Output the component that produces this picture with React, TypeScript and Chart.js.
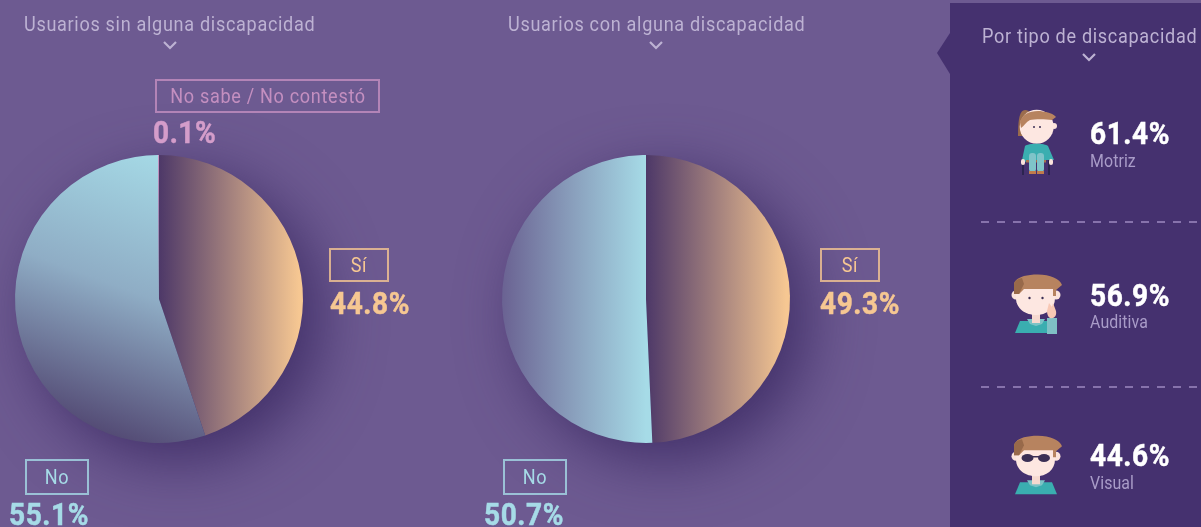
import React, { useEffect, useRef } from "react";
import { Chart, registerables } from "chart.js";

Chart.register(...registerables);

const withoutLabels = ["Sí", "No", "No sabe / No contestó"];
const withoutValues = [44.8, 55.1, 0.1];
const withLabels = ["Sí", "No"];
const withValues = [49.3, 50.7];
const typeLabels = ["Motriz", "Auditiva", "Visual"];
const typeValues = [61.4, 56.9, 44.6];
const titles = ["Usuarios sin alguna discapacidad", "Usuarios con alguna discapacidad", "Por tipo de discapacidad"];

const ORANGE = "#f6c792";
const BLUE = "#a6dbe7";
const PINK = "#d49dca";
const SIZE = 480;
const RADIUS = 144;

type Stops = { from: [number, number]; to: [number, number]; stops: [number, string][] };

const orangeGrad: Stops = { from: [0, 0], to: [140, 0], stops: [[0, "#4d3868"], [1, ORANGE]] };
const leftBlueGrad: Stops = { from: [30, -140], to: [-70, 130], stops: [[0, BLUE], [0.5, "#8fadc5"], [1, "#534a74"]] };
const rightBlueGrad: Stops = { from: [-144, 0], to: [0, 0], stops: [[0, "#6a6292"], [0.5, "#8aa0bd"], [1, BLUE]] };

function Pie({ left, labels, values, grads }: { left: number; labels: string[]; values: number[]; grads: (Stops | string)[] }) {
  const ref = useRef<HTMLCanvasElement>(null);
  useEffect(() => {
    const chart = new Chart(ref.current!, {
      type: "pie",
      data: {
        labels,
        datasets: [
          {
            data: values,
            borderWidth: 0,
            backgroundColor: (c: any) => {
              const g = grads[c.dataIndex];
              if (typeof g === "string") return g;
              const area = c.chart.chartArea;
              if (!area) return ORANGE;
              const cx = (area.left + area.right) / 2;
              const cy = (area.top + area.bottom) / 2;
              const lg = c.chart.ctx.createLinearGradient(cx + g.from[0], cy + g.from[1], cx + g.to[0], cy + g.to[1]);
              g.stops.forEach(([o, col]) => lg.addColorStop(o, col));
              return lg;
            },
          },
        ],
      },
      options: {
        responsive: false,
        animation: false,
        layout: { padding: SIZE / 2 - RADIUS },
        plugins: { legend: { display: false }, tooltip: { enabled: false } },
      },
    });
    return () => chart.destroy();
  }, []);
  return (
    <canvas
      ref={ref}
      width={SIZE}
      height={SIZE}
      style={{
        position: "absolute",
        left: left - SIZE / 2,
        top: 299 - SIZE / 2,
        width: SIZE,
        height: SIZE,
        filter: "drop-shadow(18px 18px 30px rgba(60,42,100,0.9))",
      }}
    />
  );
}

function T({ x, y, size, color, bold, children, anchor, spacing, scale }: { x: number; y: number; size: number; color: string; bold?: boolean; children: React.ReactNode; anchor?: "c"; spacing?: number; scale?: number }) {
  return (
    <div
      style={{
        position: "absolute",
        left: x,
        top: y,
        fontFamily: "Roboto, sans-serif",
        fontSize: size,
        fontWeight: bold ? 700 : 400,
        letterSpacing: spacing ?? 0,
        WebkitTextStroke: bold ? `0.5px ${color}` : undefined,
        lineHeight: 1,
        color,
        whiteSpace: "nowrap",
        transformOrigin: "0 50%",
        transform: `translate(0,-50%) scaleX(${scale ?? 0.86})${anchor === "c" ? " translateX(-50%)" : ""}`,
      }}
    >
      {children}
    </div>
  );
}

function Big({ x, y, color, children }: { x: number; y: number; color: string; children: React.ReactNode }) {
  return (
    <T x={x} y={y} size={30.5} color={color} bold spacing={0.6} scale={0.92}>
      {children}
    </T>
  );
}

function Title({ x, y, children }: { x: number; y: number; children: React.ReactNode }) {
  return (
    <T x={x} y={y} size={21} color="#bdb2d3" spacing={0.8}>
      {children}
    </T>
  );
}

function Small({ x, y, children }: { x: number; y: number; children: React.ReactNode }) {
  return (
    <T x={x} y={y} size={18.5} color="#a99cc8" spacing={0.1}>
      {children}
    </T>
  );
}

function Box({ x, y, w, h, color, label }: { x: number; y: number; w: number; h: number; color: string; label: string }) {
  return (
    <>
      <div style={{ position: "absolute", left: x, top: y, width: w, height: h, boxSizing: "border-box", border: `2px solid ${color}`, opacity: 0.8 }} />
      <T x={x + w / 2} y={y + h / 2} size={21} color={color} anchor="c" spacing={0.8}>
        {label}
      </T>
    </>
  );
}

const pct = (v: number) => `${v.toFixed(1)}%`;

function Chevron({ x, y }: { x: number; y: number }) {
  return <polyline points={`${x - 6},${y - 3} ${x},${y + 3} ${x + 6},${y - 3}`} fill="none" stroke="#bdb2d3" strokeWidth={2.2} />;
}

function ManHead({ dy }: { dy: number }) {
  return (
    <g transform={`translate(0,${dy})`}>
      <polygon points="1015,333 1020,321 1052,321 1057,333" fill="#3aaeb0" />
      <polygon points="1027,319 1045,319 1042,324 1036,326 1030,324" fill="#7cc3c6" />
      <rect x={1032} y={313} width={8} height={10} fill="#f6d9cf" />
      <circle cx={1016} cy={295} r={4.5} fill="#fbe3dc" />
      <circle cx={1056} cy={295} r={4.5} fill="#fbe3dc" />
      <path d="M1016 286 L1055 286 L1055 298 C1055 309 1046 315 1036 315 C1026 315 1016 309 1016 298 Z" fill="#fde7e1" />
      <path d="M1014 285 C1014 279 1022 274.5 1038 274.5 C1050 274.5 1060 279 1062 285 L1056 290 L1056 296 L1053 296 L1053 289 L1024 289 L1019 294 L1014 294 Z" fill="#b7835f" />
      <path d="M1014 285 C1014 281 1017 279 1022 278 L1024 284 L1019 294 L1014 294 Z" fill="#98694a" />
    </g>
  );
}

function Icons() {
  return (
    <g>
      {/* motriz */}
      <rect x={1022} y={158} width={2} height={17} fill="#2c2450" />
      <rect x={1048} y={158} width={2} height={17} fill="#2c2450" />
      <path d="M1018 136 C1018 118 1020 110 1025 110 C1030 110 1032 114 1032 118 L1025 136 Z" fill="#9b6c4c" />
      <circle cx={1054} cy={126} r={3} fill="#fbe3dc" />
      <circle cx={1036.7} cy={126.7} r={17} fill="#fde7e1" />
      <path d="M1020 122 C1022 114 1030 110.5 1040 111 C1048 112 1054 114 1056 117 L1052 120 C1046 119 1034 119 1030 120 C1026 122 1024 126 1021 128 Z" fill="#b7835f" />
      <circle cx={1034} cy={127} r={1} fill="#3a2f55" />
      <circle cx={1040} cy={127} r={1} fill="#3a2f55" />
      <path d="M1022 160 L1025 146 C1028 143 1045 143 1048 146 L1054 160 L1046 160 L1046 162 L1026 162 Z" fill="#3aaeb0" />
      <rect x={1021} y={159} width={4} height={6} rx={2} fill="#fbe3dc" />
      <rect x={1049} y={159} width={4} height={6} rx={2} fill="#fbe3dc" />
      <rect x={1026} y={160} width={20} height={2.5} fill="#a8724e" />
      <rect x={1029} y={153} width={7} height={19} rx={3} fill="#7fc4c9" />
      <rect x={1037} y={153} width={7} height={19} rx={3} fill="#7fc4c9" />
      <rect x={1029} y={171} width={7} height={3} fill="#c07c4c" />
      <rect x={1037} y={171} width={7} height={3} fill="#c07c4c" />

      {/* auditiva */}
      <ManHead dy={0} />
      <circle cx={1029.5} cy={298} r={1.2} fill="#3a2f55" />
      <circle cx={1042.5} cy={298} r={1.2} fill="#3a2f55" />
      <rect x={1047} y={318} width={10} height={16} fill="#7fc0c5" />
      <path d="M1047 311 L1049 303 L1052 307 L1053 303 L1056 311 C1057 316 1054 319 1050 318 C1048 317 1047 314 1047 311 Z" fill="#f8c8b4" />

      {/* visual */}
      <ManHead dy={161.3} />
      <rect x={1032} y={456} width={7} height={1.5} fill="#3a2f55" />
      <ellipse cx={1027.5} cy={458} rx={6} ry={4} fill="#3a2f55" />
      <ellipse cx={1044} cy={458} rx={6} ry={4} fill="#3a2f55" />
    </g>
  );
}

export default function App() {
  return (
    <div style={{ position: "fixed", left: 0, top: 0, width: 1201, height: 527, overflow: "hidden", background: "#6d5a91" }}>
      <Pie left={159} labels={withoutLabels} values={withoutValues} grads={[orangeGrad, leftBlueGrad, PINK]} />
      <Pie left={646} labels={withLabels} values={withValues} grads={[orangeGrad, rightBlueGrad]} />

      <div style={{ position: "absolute", left: 950, top: 3, width: 251, height: 524, background: "#45316f" }} />
      <svg width={1201} height={527} style={{ position: "absolute", left: 0, top: 0 }}>
        <polygon points="950,33 937,53 950,74" fill="#45316f" />
        <Chevron x={170} y={45} />
        <Chevron x={656} y={45} />
        <Chevron x={1089} y={57} />
        <line x1={981} y1={222} x2={1197} y2={222} stroke="#8773ac" strokeWidth={2} strokeDasharray="8 8" />
        <line x1={981} y1={387} x2={1197} y2={387} stroke="#8773ac" strokeWidth={2} strokeDasharray="8 8" />
        <Icons />
      </svg>

      <Title x={24} y={24}>{titles[0]}</Title>
      <Title x={508} y={24}>{titles[1]}</Title>
      <Title x={982} y={36}>{titles[2]}</Title>

      <Box x={155} y={79} w={225} h={34} color="#c48fc0" label={withoutLabels[2]} />
      <Big x={153} y={133} color={PINK}>{pct(withoutValues[2])}</Big>
      <Box x={329} y={248} w={60} h={34} color={ORANGE} label={withoutLabels[0]} />
      <Big x={330} y={304} color={ORANGE}>{pct(withoutValues[0])}</Big>
      <Box x={25} y={459} w={64} h={36} color={BLUE} label={withoutLabels[1]} />
      <Big x={9} y={515} color={BLUE}>{pct(withoutValues[1])}</Big>

      <Box x={820} y={248} w={60} h={34} color={ORANGE} label={withLabels[0]} />
      <Big x={820} y={304} color={ORANGE}>{pct(withValues[0])}</Big>
      <Box x={503} y={459} w={64} h={36} color={BLUE} label={withLabels[1]} />
      <Big x={484} y={515} color={BLUE}>{pct(withValues[1])}</Big>

      <Big x={1090} y={134} color="#ffffff">{pct(typeValues[0])}</Big>
      <Small x={1090} y={161}>{typeLabels[0]}</Small>
      <Big x={1090} y={296} color="#ffffff">{pct(typeValues[1])}</Big>
      <Small x={1090} y={322}>{typeLabels[1]}</Small>
      <Big x={1090} y={456} color="#ffffff">{pct(typeValues[2])}</Big>
      <Small x={1090} y={483}>{typeLabels[2]}</Small>
    </div>
  );
}
